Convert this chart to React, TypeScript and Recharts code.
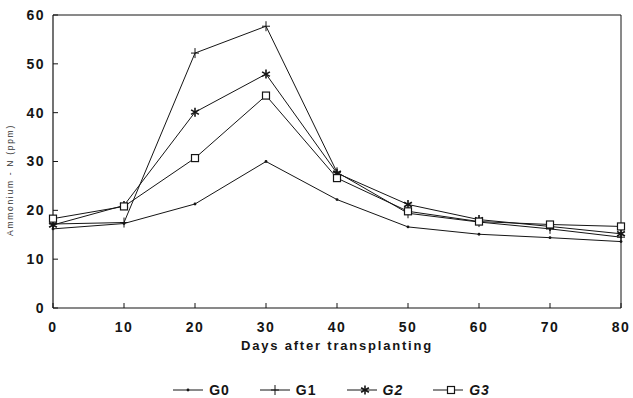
import React from "react";
import { LineChart, Line, XAxis, YAxis, ReferenceLine, Legend, Label } from "recharts";

const days = [0, 10, 20, 30, 40, 50, 60, 70, 80];
const g0 = [16.2, 17.3, 21.3, 30.0, 22.2, 16.6, 15.1, 14.4, 13.6];
const g1 = [17.2, 17.5, 52.2, 57.7, 27.8, 19.4, 17.6, 16.2, 14.5];
const g2 = [17.0, 21.0, 40.1, 47.9, 27.6, 21.2, 18.1, 16.7, 15.2];
const g3 = [18.3, 20.8, 30.7, 43.5, 26.6, 19.8, 17.7, 17.1, 16.7];
const xTicks = [0, 10, 20, 30, 40, 50, 60, 70, 80];
const yTicks = [0, 10, 20, 30, 40, 50, 60];
const seriesNames = ["G0", "G1", "G2", "G3"];

const data = days.map((d, i) => ({ day: d, G0: g0[i], G1: g1[i], G2: g2[i], G3: g3[i] }));

const INK = "#151515";
const FONT = "'Liberation Sans', Arial, sans-serif";

function Marker({ kind, cx, cy }: { kind: string; cx: number; cy: number }) {
  if (kind === "G0") return <circle cx={cx} cy={cy} r={1.4} fill={INK} />;
  if (kind === "G1")
    return (
      <g stroke={INK} strokeWidth={1}>
        <line x1={cx} y1={cy - 5} x2={cx} y2={cy + 5} />
        <line x1={cx - 4} y1={cy} x2={cx + 4} y2={cy} />
      </g>
    );
  if (kind === "G2") {
    const r = 4.5;
    return (
      <g stroke={INK} strokeWidth={1.6}>
        <line x1={cx} y1={cy - r} x2={cx} y2={cy + r} />
        <line x1={cx - r * 0.87} y1={cy - r * 0.5} x2={cx + r * 0.87} y2={cy + r * 0.5} />
        <line x1={cx - r * 0.87} y1={cy + r * 0.5} x2={cx + r * 0.87} y2={cy - r * 0.5} />
      </g>
    );
  }
  return <rect x={cx - 3.5} y={cy - 3.5} width={7} height={7} fill="#fff" stroke={INK} strokeWidth={1.2} />;
}

const makeDot = (kind: string) => (props: any) => {
  const { cx, cy, index } = props;
  if (cx == null || cy == null) return <g key={`${kind}-${index}`} />;
  return (
    <g key={`${kind}-${index}`}>
      <Marker kind={kind} cx={cx} cy={cy} />
    </g>
  );
};

const LegendContent = () => (
  <div
    style={{
      display: "flex",
      justifyContent: "center",
      alignItems: "center",
      fontFamily: FONT,
      fontWeight: 700,
      fontSize: 14,
      color: INK,
      paddingLeft: 30,
    }}
  >
    {seriesNames.map((n, i) => (
      <div key={n} style={{ display: "flex", alignItems: "center", marginRight: i < 3 ? 30 : 0 }}>
        <svg width={30} height={12} style={{ marginRight: 6 }}>
          <line x1={0} y1={6} x2={30} y2={6} stroke={INK} strokeWidth={1} />
          <Marker kind={n} cx={n === "G0" || n === "G1" ? 15 : 18} cy={6} />
        </svg>
        <span style={{ fontStyle: i >= 2 ? "italic" : "normal", letterSpacing: 1 }}>{n}</span>
      </div>
    ))}
  </div>
);

export default function App() {
  const tickStyle = { fontFamily: FONT, fontWeight: 700, fontSize: 14, fill: INK, letterSpacing: 1.5 };
  return (
    <div style={{ position: "absolute", left: 0, top: 0, background: "#fff" }}>
      <LineChart width={633} height={398} data={data} margin={{ top: 15, right: 12, bottom: 0, left: 0 }}>
        <XAxis
          dataKey="day"
          type="number"
          domain={[0, 80]}
          ticks={xTicks}
          height={90}
          tickSize={-5}
          tickMargin={19}
          stroke={INK}
          tick={tickStyle}
          axisLine={{ stroke: INK, strokeWidth: 1.2 }}
          tickLine={{ stroke: INK }}
          interval={0}
        >
          <Label
            content={() => (
              <text
                x={337}
                y={347}
                textAnchor="middle"
                dominantBaseline="middle"
                style={{ fontFamily: FONT, fontWeight: 700, fontSize: 13, fill: INK, letterSpacing: 1.8 }}
              >
                Days after transplanting
              </text>
            )}
          />
        </XAxis>
        <YAxis
          type="number"
          domain={[0, 60]}
          ticks={yTicks}
          width={53}
          tickSize={-5}
          tickMargin={13}
          tick={tickStyle}
          axisLine={{ stroke: INK, strokeWidth: 1.2 }}
          tickLine={{ stroke: INK }}
          interval={0}
        >
          <Label
            content={() => (
              <text
                x={11}
                y={180}
                transform="rotate(-90, 11, 180)"
                textAnchor="middle"
                dominantBaseline="middle"
                style={{ fontFamily: FONT, fontSize: 8.5, fill: "#333", letterSpacing: 1.7 }}
              >
                Ammonium - N (ppm)
              </text>
            )}
          />
        </YAxis>
        <ReferenceLine y={60} stroke={INK} strokeWidth={1} />
        <ReferenceLine x={80} stroke={INK} strokeWidth={1} />
        {seriesNames.map((n) => (
          <Line
            key={n}
            dataKey={n}
            type="linear"
            stroke={INK}
            strokeWidth={1}
            dot={makeDot(n)}
            activeDot={false}
            isAnimationActive={false}
          />
        ))}
        <Legend
          verticalAlign="middle"
          layout="horizontal"
          content={LegendContent}
          wrapperStyle={{ position: "absolute", top: 382, left: 0, width: 633 }}
        />
      </LineChart>
    </div>
  );
}
